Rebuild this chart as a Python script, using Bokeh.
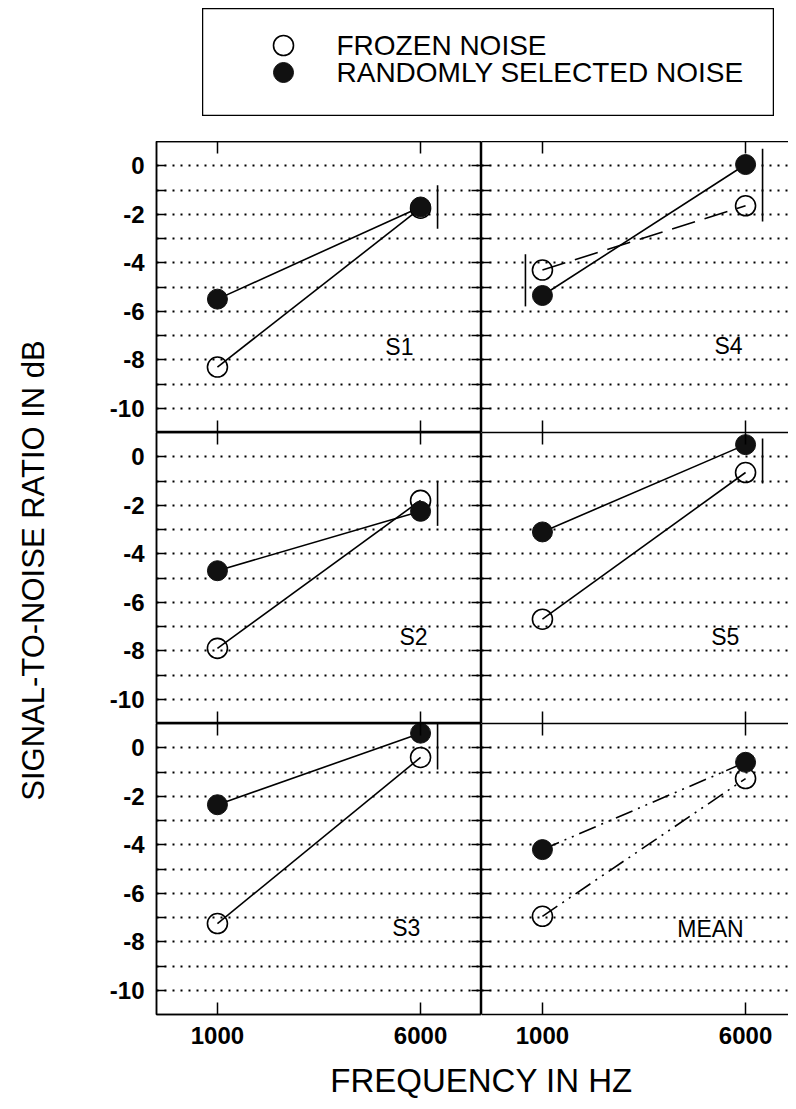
import math
from bokeh.plotting import figure
from bokeh.models import (LinearAxis, FixedTicker, Grid, Range1d,
                          ColumnDataSource, Label, Spacer)
from bokeh.layouts import column, row
from bokeh.embed import file_html
from bokeh.resources import INLINE
from bokeh.core.properties import value

FONT = "Liberation Sans"

# ---------------- data ----------------
freq = [1000, 6000]
freq_labels = ["1000", "6000"]
y_ticks = [-10, -8, -6, -4, -2, 0]
y_minor = [-9, -7, -5, -3, -1]
y_grid = [-10, -9, -8, -7, -6, -5, -4, -3, -2, -1, 0]

s1_frozen = [-8.3, -1.75]
s1_random = [-5.5, -1.7]
s1_err_freq = [6000]
s1_err_hi = [-0.8]
s1_err_lo = [-2.6]

s2_frozen = [-7.9, -1.8]
s2_random = [-4.7, -2.25]
s2_err_freq = [6000]
s2_err_hi = [-1.0]
s2_err_lo = [-2.85]

s3_frozen = [-7.25, -0.4]
s3_random = [-2.35, 0.6]
s3_err_freq = [6000]
s3_err_hi = [1.1]
s3_err_lo = [-0.9]

s4_frozen = [-4.3, -1.65]
s4_random = [-5.35, 0.05]
s4_err_freq = [1000, 6000]
s4_err_hi = [-3.65, 0.7]
s4_err_lo = [-5.8, -2.3]

s5_frozen = [-6.7, -0.65]
s5_random = [-3.1, 0.5]
s5_err_freq = [6000]
s5_err_hi = [0.75]
s5_err_lo = [-1.1]

mean_frozen = [-6.95, -1.27]
mean_random = [-4.2, -0.6]
mean_err_freq = []
mean_err_hi = []
mean_err_lo = []

# ---------------- layout constants ----------------
PX_PER_HZ = 325 / 8000.0
FRAME_H = 291
LEFT_W = 325
RIGHT_W = 307
YT_W = 70
LEFT_BORDER = 156 - YT_W
BOTTOM_EXTRA = 45
Y_RANGE = (-11.0, 1.0)


def hide_labels(ax):
    ax.major_label_text_font_size = "0px"
    ax.major_label_standoff = 0


def style_axis(ax, tick_len):
    ax.axis_line_color = "black"
    ax.axis_line_width = 1.5
    ax.major_tick_in = tick_len
    ax.major_tick_out = 0
    ax.minor_tick_in = tick_len
    ax.minor_tick_out = 0
    ax.major_tick_line_color = "black"
    ax.major_tick_line_width = 1.5
    ax.minor_tick_line_color = "black"
    ax.minor_tick_line_width = 1.5
    ax.major_label_text_font = FONT
    ax.major_label_text_font_style = "bold"
    ax.major_label_text_font_size = "24px"
    ax.major_label_text_color = "black"


def make_panel(name, fr, rd, ef, eh, el, es, fdash, rdash, lx, ly, col, r):
    left = col == 0
    fw = LEFT_W if left else RIGHT_W
    x_end = -500 + fw / PX_PER_HZ
    p = figure(frame_width=fw, frame_height=FRAME_H,
               x_range=Range1d(-500, x_end), y_range=Range1d(*Y_RANGE),
               x_axis_location=None, y_axis_location=None,
               toolbar_location=None, output_backend="svg",
               min_border=0,
               min_border_left=LEFT_BORDER if left else 0,
               min_border_right=0, min_border_top=0,
               min_border_bottom=BOTTOM_EXTRA if r == 2 else 0)
    p.outline_line_color = "black" if left else None
    p.outline_line_width = 1.5
    p.background_fill_color = "white"
    p.border_fill_color = "white"
    p.xgrid.visible = False
    p.ygrid.visible = False

    g = Grid(dimension=1, ticker=FixedTicker(ticks=y_grid),
             grid_line_color="black", grid_line_width=2,
             grid_line_dash="2 6")
    p.add_layout(g)

    ya = LinearAxis(ticker=FixedTicker(ticks=y_ticks, minor_ticks=y_minor))
    style_axis(ya, 9)
    if left:
        ya.major_label_overrides = {t: str(t) for t in y_ticks}
        ya.major_label_standoff = 12
    else:
        ya.major_label_overrides = {t: "" for t in y_ticks}
        hide_labels(ya)
    p.add_layout(ya, "left")
    if left:
        yr = LinearAxis(ticker=FixedTicker(ticks=y_ticks, minor_ticks=y_minor))
        style_axis(yr, 10)
        yr.major_label_overrides = {t: "" for t in y_ticks}
        hide_labels(yr)
        p.add_layout(yr, "right")

    xt = LinearAxis(ticker=FixedTicker(ticks=freq, minor_ticks=[]))
    style_axis(xt, 12)
    xt.major_label_overrides = {f: "" for f in freq}
    hide_labels(xt)
    p.add_layout(xt, "above")
    xb = LinearAxis(ticker=FixedTicker(ticks=freq, minor_ticks=[]))
    style_axis(xb, 12)
    if r == 2:
        xb.major_label_overrides = dict(zip(freq, freq_labels))
        xb.major_label_standoff = 12
    else:
        xb.major_label_overrides = {f: "" for f in freq}
        hide_labels(xb)
    p.add_layout(xb, "below")

    off = 17 / PX_PER_HZ
    esrc = ColumnDataSource(dict(x=[f + s * off for f, s in zip(ef, es)],
                                 hi=eh, lo=el))
    fsrc = ColumnDataSource(dict(x=freq, y=fr))
    rsrc = ColumnDataSource(dict(x=freq, y=rd))
    p.line("x", "y", source=fsrc, line_color="black", line_width=1.6,
           line_dash=fdash)
    p.line("x", "y", source=rsrc, line_color="black", line_width=1.6,
           line_dash=rdash)
    p.segment(x0="x", y0="lo", x1="x", y1="hi", source=esrc,
              line_color="black", line_width=1.6)
    p.scatter("x", "y", source=fsrc, size=20, fill_color=None,
              line_color="black", line_width=1.6)
    p.scatter("x", "y", source=rsrc, size=20, fill_color="#111111",
              line_color="#111111", line_width=1)
    p.text(x=[lx], y=[ly], text=[name], text_font=value(FONT),
           text_font_size="23px", text_align="center",
           text_baseline="middle", text_color="black")
    return p


dotdot = "18 6 2 6 2 6"
p_s1 = make_panel("S1", s1_frozen, s1_random, s1_err_freq, s1_err_hi, s1_err_lo,
                  [1], "solid", "solid", 5480, -7.46, 0, 0)
p_s4 = make_panel("S4", s4_frozen, s4_random, s4_err_freq, s4_err_hi, s4_err_lo,
                  [-1, 1], "24 10", "solid", 5580, -7.42, 1, 0)
p_s2 = make_panel("S2", s2_frozen, s2_random, s2_err_freq, s2_err_hi, s2_err_lo,
                  [1], "solid", "solid", 5826, -7.42, 0, 1)
p_s5 = make_panel("S5", s5_frozen, s5_random, s5_err_freq, s5_err_hi, s5_err_lo,
                  [1], "solid", "solid", 5500, -7.42, 1, 1)
p_s3 = make_panel("S3", s3_frozen, s3_random, s3_err_freq, s3_err_hi, s3_err_lo,
                  [1], "solid", "solid", 5650, -7.45, 0, 2)
p_mean = make_panel("MEAN", mean_frozen, mean_random, mean_err_freq, mean_err_hi,
                    mean_err_lo, [], dotdot, dotdot, 5137, -7.46, 1, 2)

# ---------------- y title (spans all three rows) ----------------
GRID_H = 3 * FRAME_H + BOTTOM_EXTRA
yt = figure(width=YT_W, height=GRID_H, x_range=Range1d(0, YT_W),
            y_range=Range1d(0, GRID_H), x_axis_location=None,
            y_axis_location=None, toolbar_location=None,
            output_backend="svg", min_border=0)
yt.outline_line_color = None
yt.xgrid.visible = False
yt.ygrid.visible = False
yt.add_layout(Label(x=33, y=GRID_H - 429, x_units="screen", y_units="screen",
                    text="SIGNAL-TO-NOISE RATIO IN dB", text_font=FONT,
                    text_font_size="31px", angle=math.pi / 2,
                    text_align="center", text_baseline="middle",
                    text_color="black"))

# ---------------- legend box ----------------
LEG_W, LEG_H = 572, 108
leg = figure(width=LEG_W, height=LEG_H, x_range=Range1d(0, LEG_W),
             y_range=Range1d(0, LEG_H), x_axis_location=None,
             y_axis_location=None, toolbar_location=None,
             output_backend="svg", min_border=0)
leg.outline_line_color = "black"
leg.outline_line_width = 1.5
leg.xgrid.visible = False
leg.ygrid.visible = False
leg.scatter(x=[81], y=[71], size=20, fill_color=None, line_color="black",
            line_width=1.6)
leg.scatter(x=[81], y=[44], size=20, fill_color="#111111", line_color="#111111")
leg.add_layout(Label(x=134, y=71, x_units="screen", y_units="screen",
                     text="FROZEN NOISE", text_font=FONT, text_font_size="28px",
                     text_baseline="middle", text_color="black"))
leg.add_layout(Label(x=134, y=44, x_units="screen", y_units="screen",
                     text="RANDOMLY SELECTED NOISE", text_font=FONT,
                     text_font_size="28px", text_baseline="middle",
                     text_color="black"))

# ---------------- x title ----------------
TT_W, TT_H = 788, 42
tt = figure(width=TT_W, height=TT_H, x_range=Range1d(0, TT_W),
            y_range=Range1d(0, TT_H), x_axis_location=None,
            y_axis_location=None, toolbar_location=None,
            output_backend="svg", min_border=0)
tt.outline_line_color = None
tt.xgrid.visible = False
tt.ygrid.visible = False
tt.add_layout(Label(x=481, y=21, x_units="screen", y_units="screen",
                    text="FREQUENCY IN HZ", text_font=FONT, text_font_size="33px",
                    text_align="center", text_baseline="middle",
                    text_color="black"))

grid = column(row(p_s1, p_s4), row(p_s2, p_s5), row(p_s3, p_mean))

layout = column(
    Spacer(height=8),
    row(Spacer(width=202), leg),
    Spacer(height=25),
    row(yt, grid),
    tt,
)

open("out.html", "w").write(file_html(layout, INLINE))
